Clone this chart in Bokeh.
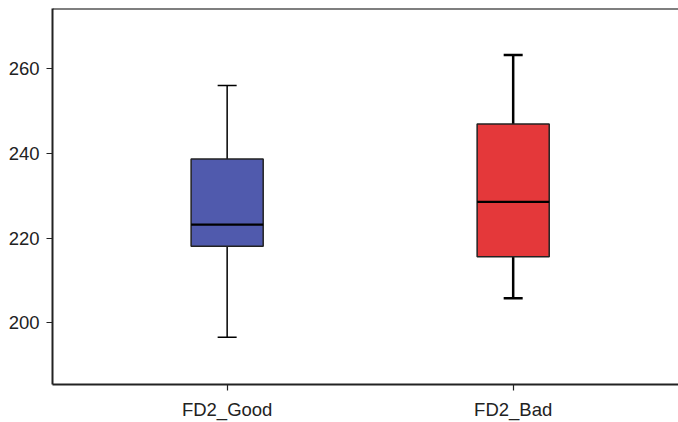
from bokeh.plotting import figure
from bokeh.models import Range1d, FixedTicker, Span, ColumnDataSource
from bokeh.embed import file_html
from bokeh.resources import INLINE

categories = ["FD2_Good", "FD2_Bad"]
whisker_low = [196.6, 205.8]
q1 = [218.1, 215.6]
median = [223.2, 228.6]
q3 = [238.7, 247.0]
whisker_high = [256.1, 263.3]
colors = ["#505AAD", "#E4383A"]
whisker_widths = [1.5, 2.5]
y_ticks = [200, 220, 240, 260]

box_w = 0.252
xs = [i + 0.5 for i in range(len(categories))]

src = ColumnDataSource(dict(
    x=xs, lo=whisker_low, q1=q1, med=median, q3=q3, hi=whisker_high,
    color=colors, ww=whisker_widths,
    xl=[x - box_w / 2 for x in xs], xr=[x + box_w / 2 for x in xs],
))

p = figure(width=678, height=422, output_backend="svg", toolbar_location=None,
           x_range=Range1d(-0.1106, 2.078), y_range=Range1d(185.4, 274.3),
           min_border_left=52, min_border_right=0, min_border_top=8, min_border_bottom=36)
p.outline_line_color = None
p.xgrid.visible = False
p.ygrid.visible = False
p.background_fill_color = "white"

# whiskers
p.segment(x0="x", y0="q3", x1="x", y1="hi", source=src, line_color="black", line_width="ww")
p.segment(x0="x", y0="lo", x1="x", y1="q1", source=src, line_color="black", line_width="ww")
p.scatter(x="x", y="hi", source=src, marker="dash", size=19, line_color="black", line_width="ww")
p.scatter(x="x", y="lo", source=src, marker="dash", size=19, line_color="black", line_width="ww")

# boxes
p.vbar(x="x", width=box_w, bottom="q1", top="q3", source=src, fill_color="color",
       line_color="#222222", line_width=1.5)
p.segment(x0="xl", y0="med", x1="xr", y1="med", source=src, line_color="black", line_width=2.2)

p.add_layout(Span(location=274.3, dimension="width", line_color="black", line_width=2))

font = "Liberation Sans"
p.xaxis.ticker = FixedTicker(ticks=xs)
p.xaxis.major_label_overrides = {x: c for x, c in zip(xs, categories)}
p.yaxis.ticker = FixedTicker(ticks=y_ticks)
for ax in (p.xaxis[0], p.yaxis[0]):
    ax.axis_line_width = 2
    ax.axis_line_color = "#222222"
    ax.major_tick_line_color = "#222222"
    ax.major_tick_line_width = 1.2
    ax.major_tick_out = 6
    ax.major_tick_in = 0
    ax.minor_tick_line_color = None
    ax.major_label_text_font = font
    ax.major_label_text_font_size = "18.5px"
    ax.major_label_text_color = "#222222"
p.xaxis.major_label_standoff = 8
p.yaxis.major_label_standoff = 7

open("out.html", "w").write(file_html(p, INLINE))
